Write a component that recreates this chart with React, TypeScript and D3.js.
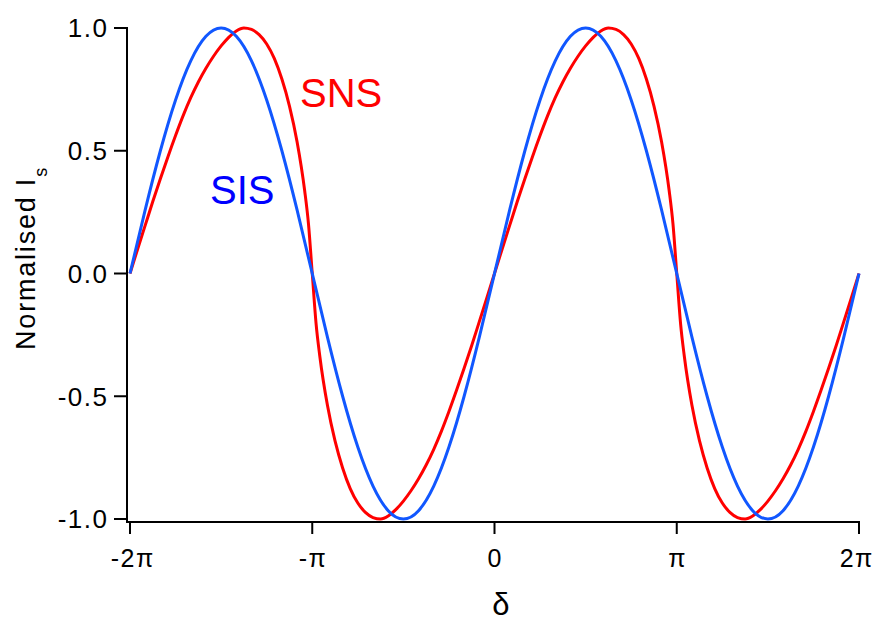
import React from "react";
import * as d3 from "d3";

// x positions in units of π/24 (SNS) and π/12 (SIS)
const snsDelta = [
  -48, -47, -46, -45, -44, -43, -42, -41, -40, -39, -38, -37, -36, -35, -34, -33, -32, -31, -30, -29, -28, -27, -26, -25, -24.5,
  -24,
  -23.5, -23, -22, -21, -20, -19, -18, -17, -16, -15, -14, -13, -12, -11, -10, -9, -8, -7, -6, -5, -4, -3, -2, -1,
  0,
  1, 2, 3, 4, 5, 6, 7, 8, 9, 10, 11, 12, 13, 14, 15, 16, 17, 18, 19, 20, 21, 22, 23, 23.5,
  24,
  24.5, 25, 26, 27, 28, 29, 30, 31, 32, 33, 34, 35, 36, 37, 38, 39, 40, 41, 42, 43, 44, 45, 46, 47,
  48,
];
const snsValue = [
  0, 0.099, 0.196, 0.293, 0.386, 0.476, 0.562, 0.643, 0.716, 0.78, 0.836, 0.885, 0.927, 0.962, 0.988, 1.0, 0.994, 0.973, 0.935, 0.876, 0.792, 0.682, 0.537, 0.338, 0.203,
  0,
  -0.203, -0.338, -0.537, -0.682, -0.792, -0.876, -0.935, -0.973, -0.994, -1.0, -0.988, -0.962, -0.927, -0.885, -0.836, -0.78, -0.716, -0.643, -0.562, -0.476, -0.386, -0.293, -0.196, -0.099,
  0,
  0.099, 0.196, 0.293, 0.386, 0.476, 0.562, 0.643, 0.716, 0.78, 0.836, 0.885, 0.927, 0.962, 0.988, 1.0, 0.994, 0.973, 0.935, 0.876, 0.792, 0.682, 0.537, 0.338, 0.203,
  0,
  -0.203, -0.338, -0.537, -0.682, -0.792, -0.876, -0.935, -0.973, -0.994, -1.0, -0.988, -0.962, -0.927, -0.885, -0.836, -0.78, -0.716, -0.643, -0.562, -0.476, -0.386, -0.293, -0.196, -0.099,
  0,
];

const sisDelta = [
  -24, -23, -22, -21, -20, -19, -18, -17, -16, -15, -14, -13, -12, -11, -10, -9, -8, -7, -6, -5, -4, -3, -2, -1,
  0, 1, 2, 3, 4, 5, 6, 7, 8, 9, 10, 11, 12, 13, 14, 15, 16, 17, 18, 19, 20, 21, 22, 23, 24,
];
const sisValue = [
  0, 0.259, 0.5, 0.707, 0.866, 0.966, 1.0, 0.966, 0.866, 0.707, 0.5, 0.259,
  0, -0.259, -0.5, -0.707, -0.866, -0.966, -1.0, -0.966, -0.866, -0.707, -0.5, -0.259,
  0, 0.259, 0.5, 0.707, 0.866, 0.966, 1.0, 0.966, 0.866, 0.707, 0.5, 0.259,
  0, -0.259, -0.5, -0.707, -0.866, -0.966, -1.0, -0.966, -0.866, -0.707, -0.5, -0.259,
  0,
];

const xTicks = [-2, -1, 0, 1, 2];
const xTickLabels = ["-2π", "-π", "0", "π", "2π"];
const yTicks = [-1, -0.5, 0, 0.5, 1];
const yTickLabels = ["-1.0", "-0.5", "0.0", "0.5", "1.0"];

const W = 877;
const H = 621;
const FONT = "'Liberation Sans', Arial, sans-serif";

export default function App() {
  const x = d3.scaleLinear().domain([-2, 2]).range([130, 859]);
  const y = d3.scaleLinear().domain([-1, 1]).range([519, 28]);
  const axisX = 127;
  const axisY = 522;
  const ls = 1.5;

  const snsPts: [number, number][] = snsDelta.map((d, i) => [d / 24, snsValue[i]]);
  const sisPts: [number, number][] = sisDelta.map((d, i) => [d / 12, sisValue[i]]);

  const lineMono = d3
    .line<[number, number]>()
    .x((d) => x(d[0]))
    .y((d) => y(d[1]))
    .curve(d3.curveMonotoneX);
  const lineNat = d3
    .line<[number, number]>()
    .x((d) => x(d[0]))
    .y((d) => y(d[1]))
    .curve(d3.curveNatural);

  return (
    <svg
      width={W}
      height={H}
      style={{ position: "absolute", left: 0, top: 0, background: "#fff" }}
      fontFamily={FONT}
    >
      <rect width={W} height={H} fill="#fff" />
      {/* curves */}
      <path d={lineMono(snsPts) || ""} fill="none" stroke="#ff0000" strokeWidth={3} strokeLinejoin="round" />
      <path d={lineNat(sisPts) || ""} fill="none" stroke="#1157ff" strokeWidth={3} strokeLinejoin="round" />

      {/* axes */}
      <line x1={axisX} x2={axisX} y1={y(1) - 1} y2={axisY + 1} stroke="#000" strokeWidth={2} />
      <line x1={axisX - 1} x2={x(2) + 1} y1={axisY} y2={axisY} stroke="#000" strokeWidth={2} />
      {yTicks.map((t, i) => (
        <g key={"yt" + i}>
          <line x1={axisX - 13} x2={axisX} y1={y(t)} y2={y(t)} stroke="#000" strokeWidth={2} />
          <text
            x={107 + ls}
            y={y(t)}
            dy="0.36em"
            textAnchor="end"
            fontSize={26}
            letterSpacing={ls}
            fill="#000"
          >
            {yTickLabels[i]}
          </text>
        </g>
      ))}
      {xTicks.map((t, i) => (
        <g key={"xt" + i}>
          <line x1={x(t)} x2={x(t)} y1={axisY} y2={axisY + 12} stroke="#000" strokeWidth={2} />
          <text
            x={x(t) + ls / 2 + (i === 0 ? 2 : i === 4 ? -3 : 0)}
            y={567}
            textAnchor="middle"
            fontSize={25}
            letterSpacing={ls}
            fill="#000"
          >
            {xTickLabels[i]}
          </text>
        </g>
      ))}

      {/* axis titles */}
      <text x={501} y={615} textAnchor="middle" fontSize={31} fill="#000">
        δ
      </text>
      <text
        transform={`translate(35,258) rotate(-90)`}
        textAnchor="middle"
        fontSize={27}
        letterSpacing={1.8}
        fill="#000"
      >
        Normalised I
        <tspan fontSize={18} dy={12}>
          s
        </tspan>
      </text>

      {/* series labels */}
      <text x={300} y={107} fontSize={40} fill="#ff0000">
        SNS
      </text>
      <text x={210} y={204} fontSize={40} fill="#0000ff">
        SIS
      </text>
    </svg>
  );
}
